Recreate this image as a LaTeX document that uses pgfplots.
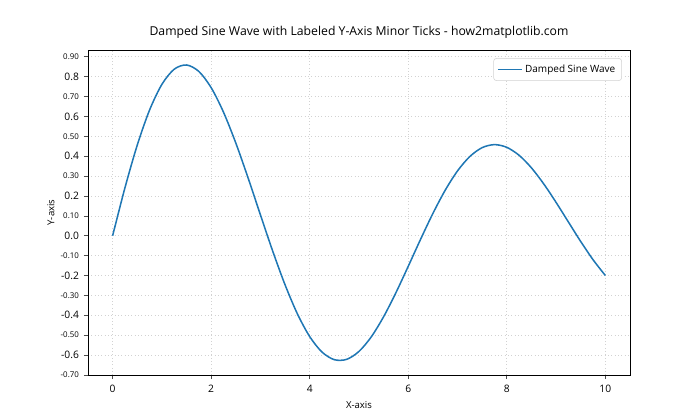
\documentclass[border=0pt]{standalone}
\usepackage{fontspec}
\setmainfont{Open Sans}
\usepackage{pgfplots}
\pgfplotsset{compat=1.18}
\definecolor{mplblue}{HTML}{1F77B4}
\begin{document}
\begin{tikzpicture}
\path[use as bounding box] (0,0) rectangle (504pt,302.4pt);
\begin{axis}[
  at={(63.36pt,32.4pt)}, anchor=south west,
  scale only axis, width=390.24pt, height=234pt,
  xmin=-0.5, xmax=10.5, ymin=-0.7002, ymax=0.934,
  axis line style={line width=0.6pt},
  tick style={black!70, line width=0.5pt},
  major tick length=3pt, minor tick length=3pt,
  tick align=outside, xtick pos=bottom, ytick pos=left,
  xtick={0,2,4,6,8,10},
  xticklabels={0,2,4,6,8,10},
  ytick={-0.6,-0.4,-0.2,0,0.2,0.4,0.6,0.8},
  yticklabels={-0.6,-0.4,-0.2,0.0,0.2,0.4,0.6,0.8},
  minor ytick={-0.5,-0.3,-0.1,0.1,0.3,0.5,0.7,0.9},
  extra y ticks={-0.7,-0.5,-0.3,-0.1,0.1,0.3,0.5,0.7,0.9},
  extra y tick labels={-0.70,-0.50,-0.30,-0.10,0.10,0.30,0.50,0.70,0.90},
  extra y tick style={grid=none, tick label style={font=\fontsize{5.7}{6}\selectfont}},
  tick label style={font=\fontsize{7.4}{8}\selectfont},
  xticklabel style={yshift=-1pt},
  grid=both,
  major grid style={dotted, gray!35, line width=0.5pt},
  minor grid style={dotted, gray!35, line width=0.5pt},
  xlabel={X-axis}, ylabel={Y-axis},
  label style={font=\fontsize{6.9}{8}\selectfont},
  xlabel style={yshift=1pt},
  ylabel style={yshift=-8pt},
  title={Damped Sine Wave with Labeled Y-Axis Minor Ticks - how2matplotlib.com},
  title style={font=\fontsize{8.8}{10}\selectfont, yshift=-1pt},
  legend style={at={(0.985,0.975)}, anchor=north east, draw=gray!35, rounded corners=2pt,
    font=\fontsize{7.2}{9}\selectfont, inner sep=2.5pt},
  legend cell align=left,
]
\addplot[mplblue, line width=1.1pt, smooth] coordinates {
(0,0) (0.25,0.2413) (0.5,0.4560) (0.75,0.6324) (1.0,0.7614) (1.25,0.8375)
(1.5,0.8586) (1.75,0.8261) (2.0,0.7445) (2.25,0.6213) (2.5,0.4661) (2.75,0.2900)
(3.0,0.1045) (3.25,-0.0782) (3.5,-0.2472) (3.75,-0.3929) (4.0,-0.5073) (4.25,-0.5851)
(4.5,-0.6233) (4.75,-0.6215) (5.0,-0.5816) (5.25,-0.5081) (5.5,-0.4070) (5.75,-0.2860)
(6.0,-0.1533) (6.25,-0.0178) (6.5,0.1123) (6.75,0.2291) (7.0,0.3263) (7.25,0.3986)
(7.5,0.4431) (7.75,0.4582) (8.0,0.4445) (8.25,0.4044) (8.5,0.3413) (8.75,0.2604)
(9.0,0.1676) (9.25,0.0691) (9.5,-0.0291) (9.75,-0.1205) (10.0,-0.2001)
};
\addlegendentry{Damped Sine Wave}
\end{axis}
\end{tikzpicture}
\end{document}
